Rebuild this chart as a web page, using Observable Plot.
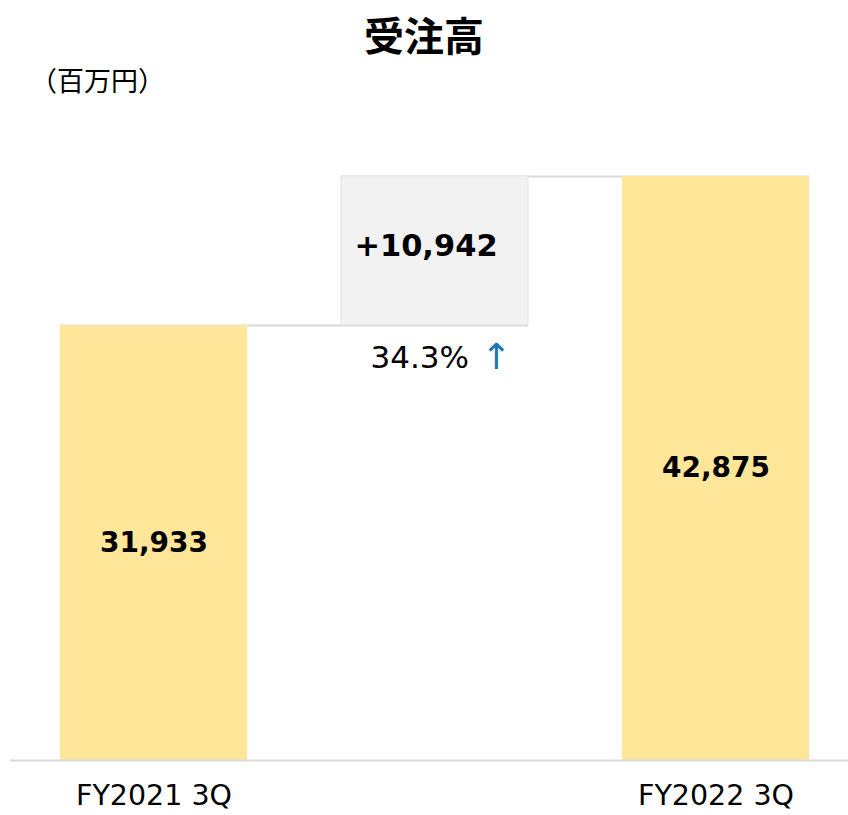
<!DOCTYPE html>
<html>
<head>
<meta charset="utf-8">
<script src="https://cdn.jsdelivr.net/npm/d3@7"></script>
<script src="https://cdn.jsdelivr.net/npm/@observablehq/plot@0.6"></script>
<style>
  html, body { margin: 0; padding: 0; background: #fff; }
  #wrap { position: relative; width: 848px; height: 815px; overflow: hidden; }
  #title { position: absolute; left: 0; width: 848px; top: 10px; text-align: center;
    font-family: "Noto Sans CJK JP", sans-serif; font-weight: 700; font-size: 40px; line-height: 48px; color: #000; }
  #unit { position: absolute; left: 30px; top: 62px;
    font-family: "Noto Sans CJK JP", sans-serif; font-size: 27px; line-height: 36px; color: #000; }
  #chart { position: absolute; left: 0; top: 100px; }
</style>
</head>
<body>
<div id="wrap">
  <div id="title">受注高</div>
  <div id="unit">（百万円）</div>
  <div id="chart"></div>
</div>
<script>
const categories = ["FY2021 3Q", "増減", "FY2022 3Q"];
const startValue = 31933;
const endValue = 42875;
const diffValue = 10942;
const diffLabel = "+10,942";
const pctLabel = "34.3%";
const arrowLabel = "↑";

const fmt = d3.format(",");
const bars = [
  {cat: categories[0], value: startValue, label: fmt(startValue)},
  {cat: categories[2], value: endValue, label: fmt(endValue)}
];
const delta = [{cat: categories[1], y1: startValue, y2: startValue + diffValue}];
const connectors = [
  {x1: categories[0], x2: categories[1], y: startValue},
  {x1: categories[1], x2: categories[2], y: endValue}
];

const numFont = "DejaVu Sans, Verdana, sans-serif";

const chart = Plot.plot({
  width: 848,
  height: 715,
  marginLeft: 10,
  marginRight: 0,
  marginTop: 47,
  marginBottom: 55,
  style: {background: "transparent", fontFamily: numFont},
  x: {domain: categories, paddingInner: 0.333, paddingOuter: 0.155, align: 0.56, label: null},
  y: {domain: [0, 45000], axis: null},
  marks: [
    Plot.ruleY(connectors, {x1: "x1", x2: "x2", y: "y", stroke: "#d9d9d9", strokeWidth: 2}),
    Plot.barY(bars, {x: "cat", y: "value", fill: "#FFE699"}),
    Plot.barY(delta, {x: "cat", y1: "y1", y2: "y2", fill: "#F2F2F2", stroke: "#E3E3E3", strokeWidth: 1}),
    Plot.ruleY([0], {stroke: "#d9d9d9", strokeWidth: 2}),
    Plot.text(bars, {x: "cat", y: d => d.value / 2, text: "label", fontSize: 28, fontWeight: "bold", fill: "#000"}),
    Plot.text(delta, {x: "cat", y: d => (d.y1 + d.y2) / 2, text: () => diffLabel, fontSize: 30.5, fontWeight: "bold", fill: "#000", dx: -9, dy: -5}),
    Plot.text(delta, {x: "cat", y: "y1", text: () => pctLabel, fontSize: 31, fill: "#000", textAnchor: "end", dx: 34, dy: 33}),
    Plot.text(delta, {x: "cat", y: "y1", text: () => arrowLabel, fontSize: 36, fill: "#1B75B6", textAnchor: "start", dx: 46, dy: 32}),
    Plot.axisX({ticks: [categories[0], categories[2]], tickSize: 0, tickPadding: 24, fontSize: 28.5, fill: "#000", label: null})
  ]
});
document.getElementById("chart").appendChild(chart);
</script>
</body>
</html>
